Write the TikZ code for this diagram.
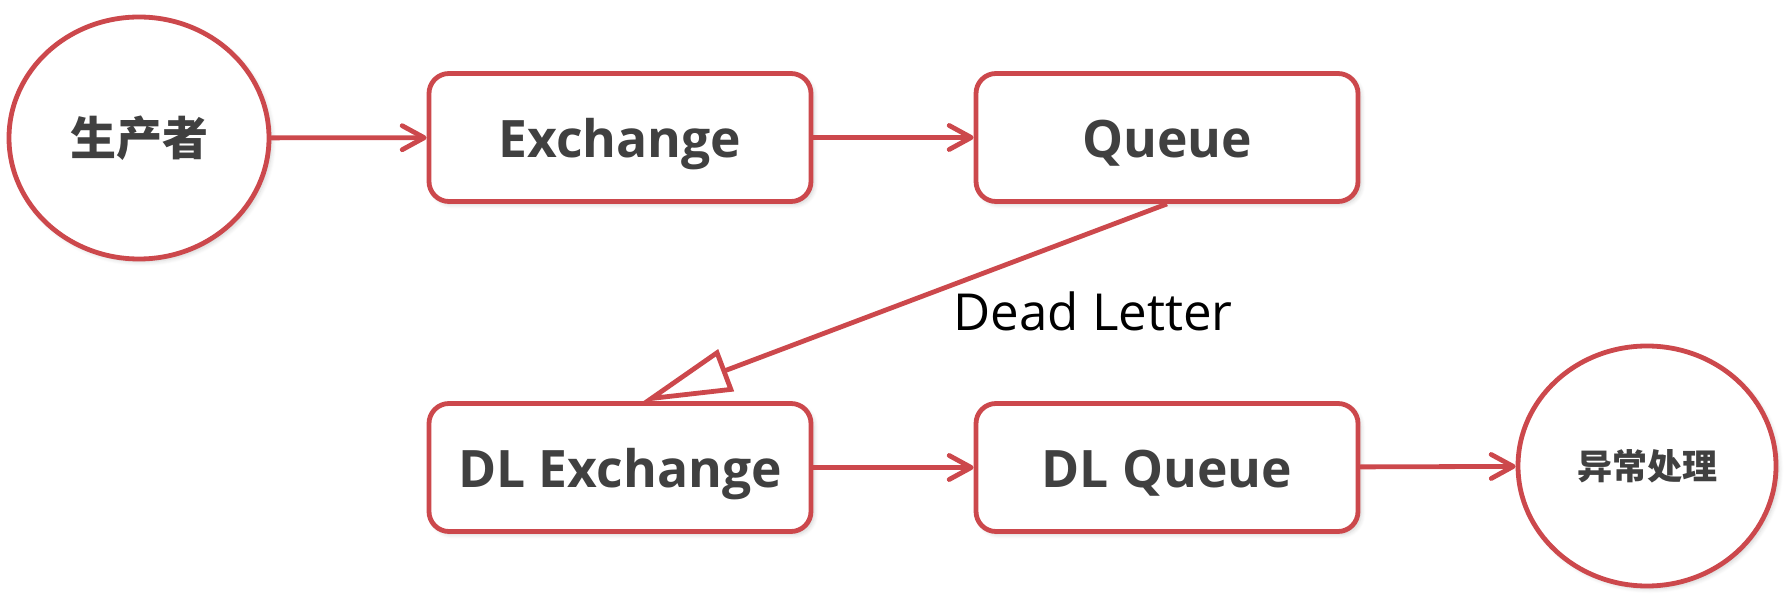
\documentclass[tikz,border=0pt]{standalone}
\usepackage{fontspec}
\setmainfont{Open Sans}
\newfontfamily\cjk{Noto Sans CJK SC}
\usetikzlibrary{arrows.meta,shapes.geometric,shadows.blur}
\definecolor{bord}{RGB}{204,72,76}
\definecolor{txt}{RGB}{64,64,64}
\tikzset{
  base/.style={draw=bord, line width=2.4pt, fill=white, text=txt,
    blur shadow={shadow blur steps=6, shadow xshift=1.5pt, shadow yshift=-1.5pt, shadow opacity=18}},
  stepbox/.style={base, rounded corners=10pt, minimum width=191pt, minimum height=64pt,
    text height=19.6pt, text depth=0pt,
    font=\bfseries\fontsize{25.8}{30}\selectfont},
  oval/.style={base, ellipse, inner sep=0pt},
  flow/.style={draw=bord, line width=2.4pt, line cap=round,
    -{Straight Barb[length=11pt,width=12pt,line cap=round,line join=round]}},
  dead/.style={draw=bord, line width=2.4pt,
    -{Triangle[open,length=45pt,width=22pt,line join=miter]}},
}
\begin{document}
\begin{tikzpicture}[x=0.5pt,y=-0.5pt]
\useasboundingbox (0,0) rectangle (1792,608);
\node[oval, minimum width=130pt, minimum height=121pt,
  font=\cjk\bfseries\fontsize{23}{26}\selectfont] (prod) at (139,138) {生产者};
\node[stepbox] (ex) at (620,137.5) {Exchange};
\node[stepbox] (q) at (1167,137.5) {Queue};
\node[stepbox] (dlex) at (620,467.5) {DL Exchange};
\node[stepbox] (dlq) at (1167,467.5) {DL Queue};
\node[oval, minimum width=129pt, minimum height=120pt,
  font=\cjk\bfseries\fontsize{17.5}{20}\selectfont] (err) at (1647,466) {异常处理};
\coordinate (dltip) at (642,402);
\draw[flow] (prod) -- (ex);
\draw[flow] (ex) -- (q);
\draw[flow] (dlex) -- (dlq);
\draw[flow] (dlq) -- (err);
\draw[dead] (q.south) -- (dltip);
\node[font=\fontsize{25.5}{28}\selectfont, text=black] (dl) at (1093,311) {Dead Letter};
\end{tikzpicture}
\end{document}
